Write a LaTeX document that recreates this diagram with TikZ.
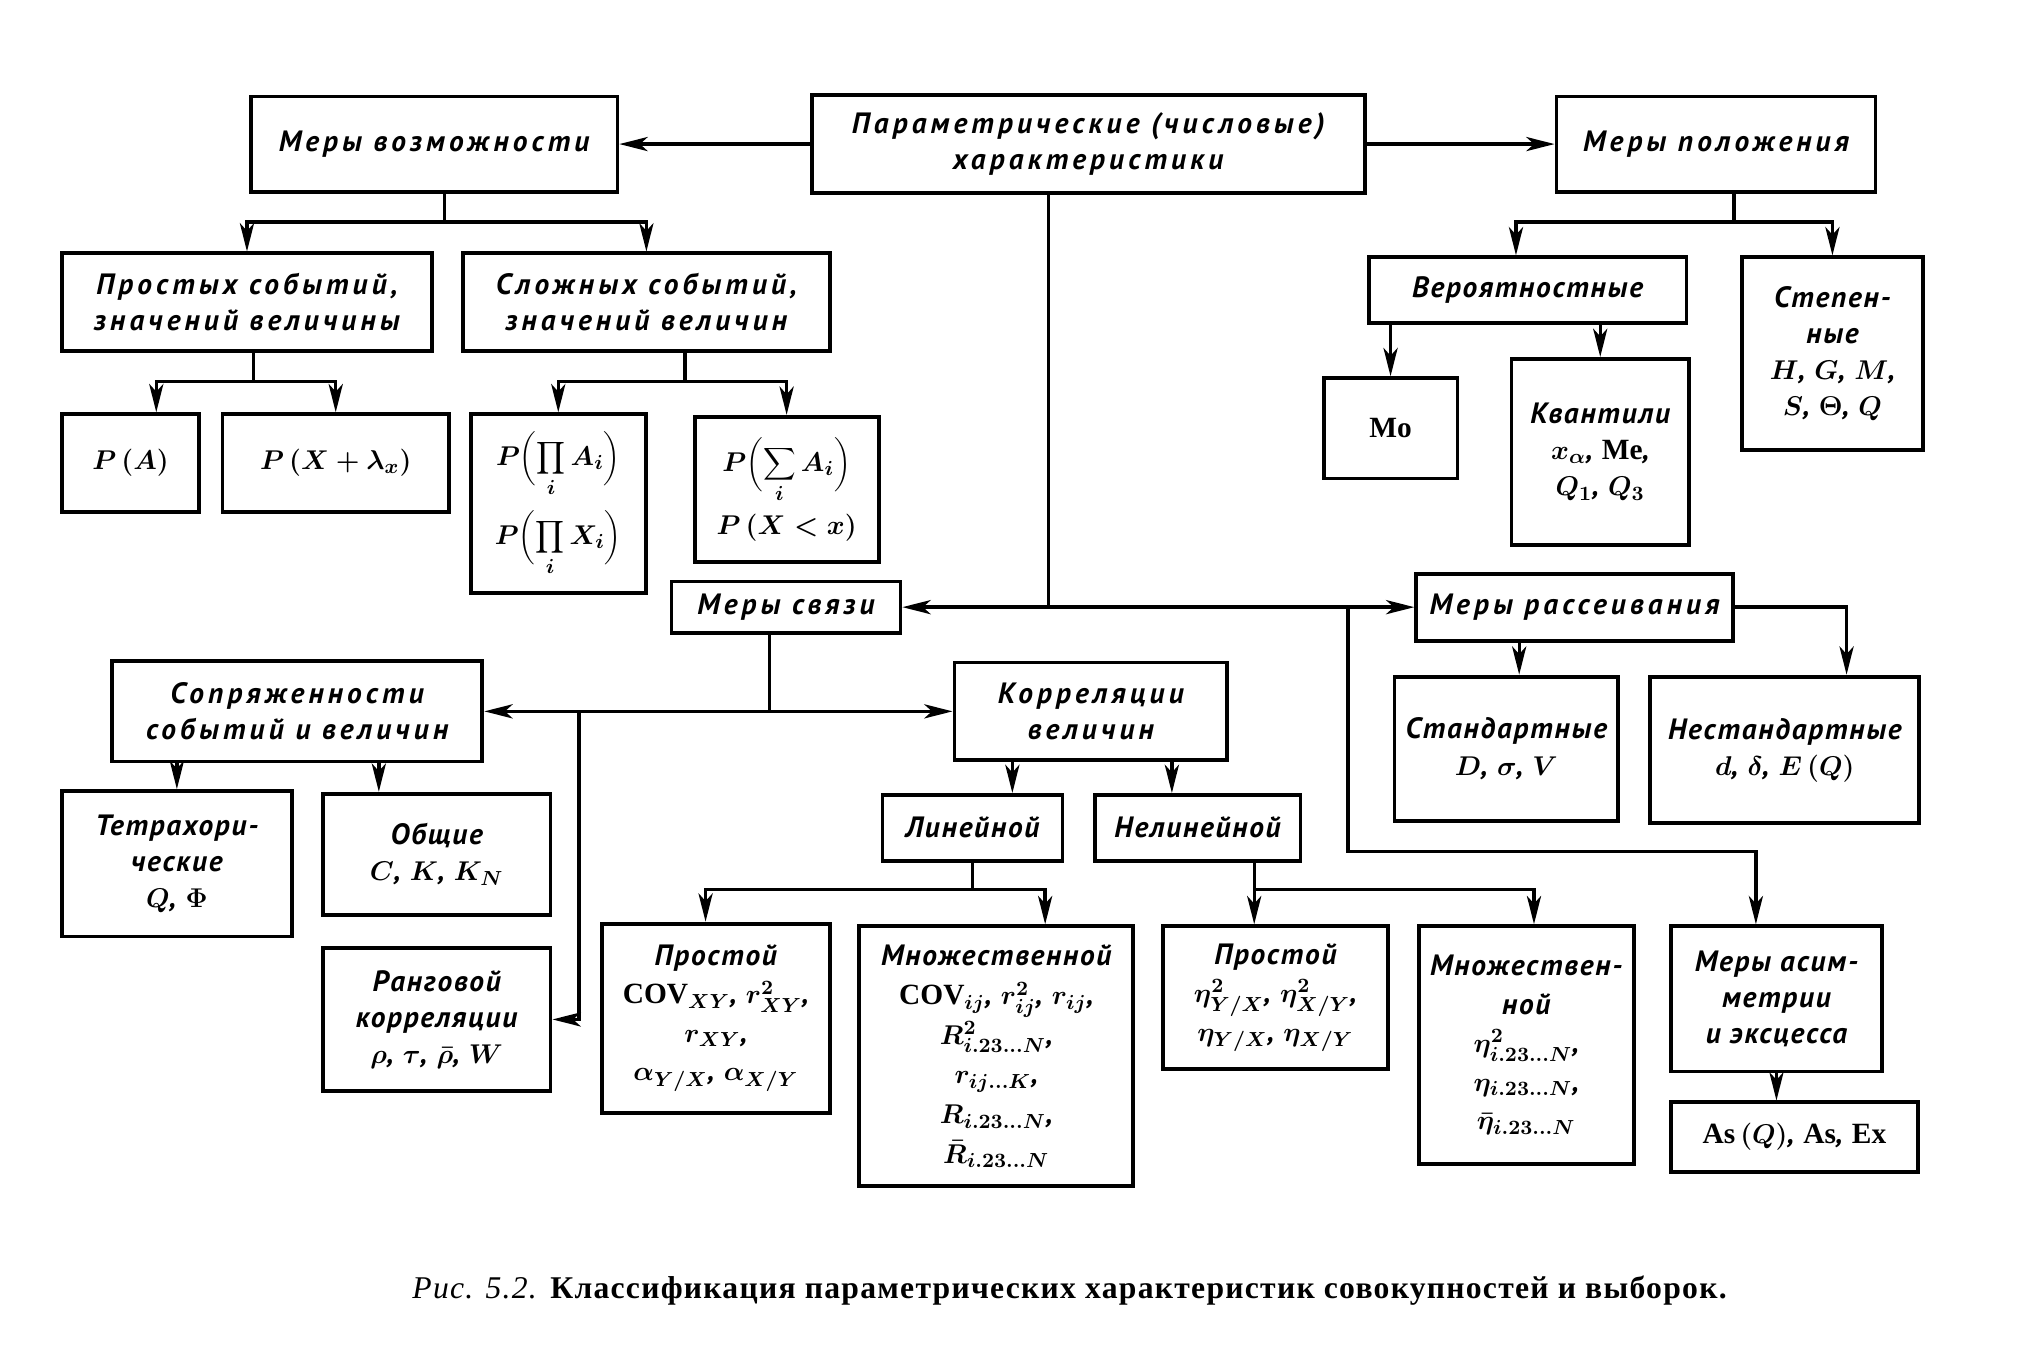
\documentclass[tikz,border=0pt]{standalone}
\usepackage{fontspec}
\setmainfont{Liberation Serif}
\newfontfamily\boxfont{PT Sans}[LetterSpace=6]
\newfontfamily\capfont{Liberation Serif}[LetterSpace=4]
\newfontfamily\rmbfont{Liberation Serif}
\newcommand\rmb[1]{{\rmbfont\upshape\bfseries #1}}
\usetikzlibrary{arrows.meta,positioning,calc}

\begin{document}
\begin{tikzpicture}[x=0.2mm, y=-0.2mm,
    box/.style={rectangle, draw, line width=1.7pt, inner sep=0pt, align=center,
      font=\fontsize{13}{16}\selectfont\boxfont\bfseries\itshape\boldmath},
    wbox/.style={box, font=\fontsize{13}{16}\selectfont\boxfont\bfseries\itshape\boldmath\addfontfeatures{LetterSpace=14}},
    sz/.style 2 args={minimum width=#1*0.2mm, minimum height=#2*0.2mm},
    arr/.style={-{Stealth[length=4.4mm,width=2.2mm,inset=1.2mm]}, line width=1.5pt},
    conn/.style={line width=1.5pt}]
\useasboundingbox (0,0) rectangle (1568,1045);

    % top row
    \node (param) [wbox, sz={430}{76}] at (846,112) {Параметрические (числовые)\\характеристики};
    \node (vozm) [wbox, sz={285}{74}] at (337.5,112) {Меры возможности};
    \node (polozh) [wbox, sz={248}{74}] at (1334,112) {Меры положения};

    % measures of possibility
    \node (prost) [wbox, sz={288}{76}] at (192,235) {Простых событий,\\значений величины};
    \node (slozh) [wbox, sz={285}{76}] at (502.5,235) {Сложных событий,\\значений величин};
    \node (pa) [box, sz={107}{76}] at (101.5,360) {$P\,(A)$};
    \node (px) [box, sz={176}{76}] at (261,360) {$P\,(X+\lambda_x)$};
    \node (prod) [box, sz={136}{139}] at (434,391.5) {$\displaystyle P\biggl(\prod_i A_i\biggr)$\\[5pt]$\displaystyle P\biggl(\prod_i X_i\biggr)$};
    \node (sum) [box, sz={143}{113}] at (611.5,380.5) {$\displaystyle P\biggl(\sum_i A_i\biggr)$\\[4pt]$P\,(X<x)$};

    % measures of location
    \node (ver) [box, sz={247}{51}] at (1187.5,225.5) {Вероятностные};
    \node (step) [box, sz={141}{150}] at (1424.5,275) {Степен-\\ные\\$H$, $G$, $M$,\\$S$, $\Theta$, $Q$};
    \node (mo) [box, sz={104}{78}] at (1081,333) {\rmb{Mo}};
    \node (kv) [box, sz={138}{145}] at (1244,351.5) {Квантили\\$x_\alpha$, \rmb{Me},\\$Q_1$, $Q_3$};

    % measures of relation and scatter
    \node (svyaz) [wbox, sz={178}{40}] at (611,472) {Меры связи};
    \node (rassei) [wbox, sz={246}{52}] at (1224,472) {Меры рассеивания};
    \node (stand) [box, sz={174}{112}] at (1171,582) {Стандартные\\$D$, $\sigma$, $V$};
    \node (nestand) [box, sz={209}{114}] at (1387.5,583) {Нестандартные\\$d$, $\delta$, $E\,(Q)$};
    \node (sopr) [wbox, sz={288}{78}] at (231,553) {Сопряженности\\событий и величин};
    \node (korr) [wbox, sz={212}{76}] at (848,553) {Корреляции\\величин};
    \node (tetra) [box, sz={179}{113}] at (137.5,671.5) {Тетрахори-\\ческие\\$Q$, $\Phi$};
    \node (obsh) [box, sz={177}{94}] at (339.5,664) {Общие\\$C$, $K$, $K_N$};
    \node (rang) [box, sz={177}{111}] at (339.5,792.5) {Ранговой\\корреляции\\$\rho$, $\tau$, $\bar\rho$, $W$};
    \node (lin) [box, sz={140}{51}] at (756,643.5) {Линейной};
    \node (nelin) [box, sz={160}{51}] at (931,643.5) {Нелинейной};
    \node (prl) [box, sz={177}{147}] at (556.5,791.5) {Простой\\[1pt]\rmb{COV}$_{XY}$, $r^2_{XY}$,\\[1pt]$r_{XY}$,\\[1pt]$\alpha_{Y/X}$, $\alpha_{X/Y}$};
    \node (mnl) [box, sz={213}{202}, font=\fontsize{13}{17.5}\selectfont\boxfont\bfseries\itshape\boldmath] at (774.5,821) {Множественной\\\rmb{COV}$_{ij}$, $r^2_{ij}$, $r_{ij}$,\\$R^2_{i.23\ldots N}$,\\$r_{ij\ldots K}$,\\$R_{i.23\ldots N}$,\\$\bar R_{i.23\ldots N}$};
    \node (prn) [box, sz={175}{111}] at (991.5,775.5) {Простой\\[1pt]$\eta^2_{Y/X}$, $\eta^2_{X/Y}$,\\[1pt]$\eta_{Y/X}$, $\eta_{X/Y}$};
    \node (mnn) [box, sz={167}{185}, font=\fontsize{13}{17}\selectfont\boxfont\bfseries\itshape\boldmath] at (1186.5,812.5) {Множествен-\\ной\\$\eta^2_{i.23\ldots N}$,\\$\eta_{i.23\ldots N}$,\\$\bar\eta_{i.23\ldots N}$};
    \node (asim) [box, sz={164}{113}] at (1381,776.5) {Меры асим-\\метрии\\и эксцесса};
    \node (asex) [box, sz={192}{54}] at (1395,884) {\rmb{As}\,$(Q)$, \rmb{As}, \rmb{Ex}};

    \node (cap) at (832,1003) {\capfont\fontsize{14}{16}\selectfont\textit{Рис. 5.2.} \textbf{Классификация параметрических характеристик совокупностей и выборок.}};

    % connectors
    \draw [arr] (param) -- (vozm);
    \draw [arr] (param) -- (polozh);

    \draw [conn] ($(vozm.south)+(8,0)$) -- ++(0,22) coordinate (v1);
    \draw [arr] (v1) -| (prost.north);
    \draw [arr] (v1) -| (slozh.north);

    \draw [conn] ($(prost.south)+(5,0)$) -- ++(0,22) coordinate (p1);
    \draw [arr] (p1) -| ($(pa.north)+(20,0)$);
    \draw [arr] (p1) -| (px.north);

    \draw [conn] ($(slozh.south)+(30,0)$) -- ++(0,22) coordinate (s1);
    \draw [arr] (s1) -| (prod.north);
    \draw [arr] (s1) -| (sum.north);

    \draw [conn] ($(polozh.south)+(14,0)$) -- ++(0,22) coordinate (q1);
    \draw [arr] (q1) -| ($(ver.north)+(-9,0)$);
    \draw [arr] (q1) -| (step.north);

    \draw [arr] (ver.south -| mo.north) -- (mo.north);
    \draw [arr] (ver.south -| kv.north) -- (kv.north);

    \coordinate (hub) at (815,472);
    \draw [conn] (param.south -| hub) -- (hub);
    \draw [arr] (hub) -- (svyaz);
    \draw [arr] (hub) -- (rassei);
    \coordinate (j1) at (1048,472);
    \draw [arr] (j1) -- ++(0,190) -| ($(asim.north)+(-16,0)$);
    \draw [arr] ($(rassei.south)+(-43,0)$) -- ($(stand.north)+(10,0)$);
    \draw [arr] (rassei.east) -| ($(nestand.north)+(48,0)$);
    \draw [arr] (asim.south) -- (asim.south |- asex.north);

    \coordinate (hub2) at (598,553);
    \draw [conn] (svyaz.south -| hub2) -- (hub2);
    \draw [arr] (hub2) -- (sopr);
    \draw [arr] (hub2) -- (korr);
    \coordinate (j2) at (450,553);
    \draw [arr] (j2) |- (rang.east);
    \draw [arr] (sopr.south -| tetra.north) -- (tetra.north);
    \coordinate (o1) at ($(obsh.north)+(-45,0)$);
    \draw [arr] (sopr.south -| o1) -- (o1);
    \coordinate (k1) at ($(lin.north)+(31,0)$);
    \draw [arr] (korr.south -| k1) -- (k1);
    \coordinate (k2) at ($(nelin.north)+(-20,0)$);
    \draw [arr] (korr.south -| k2) -- (k2);

    \draw [conn] (lin.south) -- ++(0,21) coordinate (l1);
    \draw [arr] (l1) -| ($(prl.north)+(-8,0)$);
    \draw [arr] (l1) -| ($(mnl.north)+(38,0)$);

    \draw [conn] ($(nelin.south)+(44,0)$) -- ++(0,21) coordinate (n1);
    \draw [arr] (n1) -- (n1 |- prn.north);
    \draw [arr] (n1) -| ($(mnn.north)+(6,0)$);
\end{tikzpicture}
\end{document}
